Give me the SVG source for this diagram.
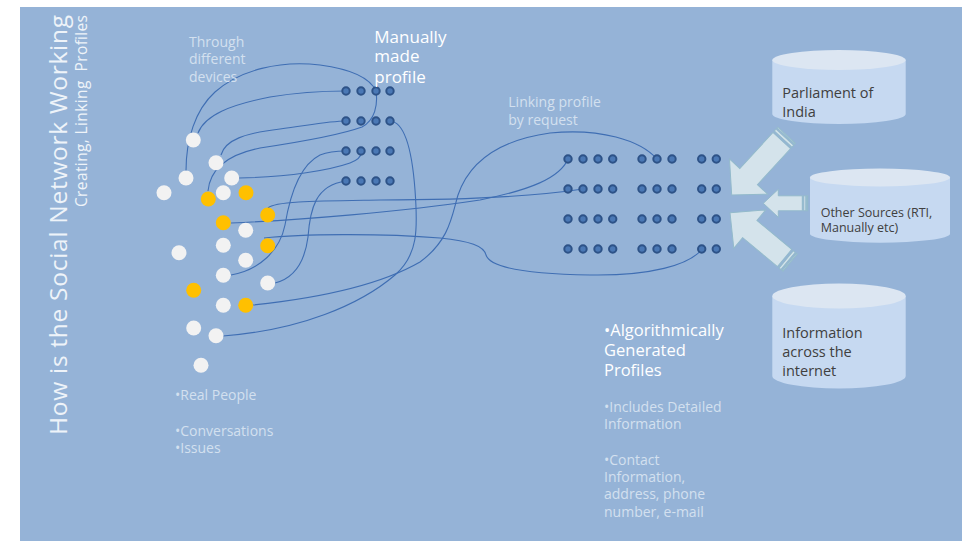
<svg xmlns="http://www.w3.org/2000/svg" width="964" height="541" viewBox="0 0 964 541">
<defs>
<style>
.bg{fill:#95B3D7}
.t{font-family:"Open Sans","DejaVu Sans",sans-serif}
.w{fill:#FFFFFF}
.f{fill:#D3E0EF}
.ttl{fill:#EEF3F9}
.dk{fill:#404040}
.pw{fill:#F2F2F2}
.py{fill:#FFC000}
.dot{fill:#4A78B5;stroke:#2D5287;stroke-width:2}
.cn{fill:none;stroke:#3F6EB3;stroke-width:1.1}
.cb{fill:#C6D9F1}
.ct{fill:#DCE6F2}
.ar{fill:#D4E3EB;stroke:#93BACB;stroke-width:1}
</style>
</defs>
<rect class="bg" x="20" y="7" width="942" height="534"/>

<g id="title">
<text class="t ttl" font-size="24.5" textLength="420" lengthAdjust="spacing" transform="translate(67,435) rotate(-90)">How is the Social Network Working</text>
<text class="t ttl" font-size="15.5" textLength="192" lengthAdjust="spacing" xml:space="preserve" transform="translate(87,207) rotate(-90)">Creating, Linking  Profiles</text>
</g>

<g id="connectors">
<path class="cn" d="M186,171 C186,140 195,110 215,92 C240,70 280,60 320,65 C350,69 370,78 376,91"/>
<path class="cn" d="M198,133 C205,115 230,105 270,97 C300,92 325,91 346,91"/>
<path class="cn" d="M221,155 C225,140 245,133 280,129 C310,125 330,121 346,121"/>
<path class="cn" d="M208,191 C210,170 225,155 260,148 C300,142 340,135 362,127 C375,120 378,105 376,91"/>
<path class="cn" d="M239,178 C290,177 330,170 350,163 C358,160 362,156 361,151"/>
<path class="cn" d="M231,275 C260,270 280,250 285,225 C290,195 300,165 320,155 C330,151 340,151 346,151"/>
<path class="cn" d="M275,283 C295,278 305,260 308,237 C310,210 315,185 346,181"/>
<path class="cn" d="M390,121 C405,122 412,150 415,190 C418,230 418,255 395,275 C360,305 300,330 223,336"/>
<path class="cn" d="M253,305 C320,298 380,285 420,262 C450,240 452,215 458,195 C470,160 500,140 550,133 C600,128 640,140 657,159"/>
<path class="cn" d="M268,208 C275,201 320,201 380,200 C450,200 530,197 583,189"/>
<path class="cn" d="M231,223 C300,220 400,212 480,200 C530,190 560,178 568,159"/>
<path class="cn" d="M264,238 C300,234 380,233 440,238 C470,241 484,246 486,255 C490,268 530,274 590,275 C650,276 690,265 702,249"/>
</g>

<g id="real-people">
<circle class="pw" cx="193.3" cy="140" r="7.5"/>
<circle class="pw" cx="216" cy="162.7" r="7.5"/>
<circle class="pw" cx="186" cy="178" r="7.5"/>
<circle class="pw" cx="231.7" cy="178" r="7.5"/>
<circle class="pw" cx="164" cy="192.7" r="7.5"/>
<circle class="pw" cx="223.3" cy="192.7" r="7.5"/>
<circle class="pw" cx="245.7" cy="230.3" r="7.5"/>
<circle class="pw" cx="179" cy="252.7" r="7.5"/>
<circle class="pw" cx="223.3" cy="245.3" r="7.5"/>
<circle class="pw" cx="245.7" cy="260.3" r="7.5"/>
<circle class="pw" cx="223.3" cy="275.3" r="7.5"/>
<circle class="pw" cx="267.7" cy="283" r="7.5"/>
<circle class="pw" cx="223.3" cy="305.3" r="7.5"/>
<circle class="pw" cx="193.7" cy="328" r="7.5"/>
<circle class="pw" cx="216" cy="335.7" r="7.5"/>
<circle class="pw" cx="201" cy="365.3" r="7.5"/>
<circle class="py" cx="208.3" cy="199" r="7.5"/>
<circle class="py" cx="246" cy="192.7" r="7.5"/>
<circle class="py" cx="267.7" cy="215" r="7.5"/>
<circle class="py" cx="223.3" cy="222.7" r="7.5"/>
<circle class="py" cx="267.7" cy="245.7" r="7.5"/>
<circle class="py" cx="193.7" cy="290.3" r="7.5"/>
<circle class="py" cx="245.7" cy="305.3" r="7.5"/>
</g>

<g id="manual-profiles">
<circle class="dot" cx="346" cy="91" r="3.7"/><circle class="dot" cx="361" cy="91" r="3.7"/><circle class="dot" cx="376" cy="91" r="3.7"/><circle class="dot" cx="390" cy="91" r="3.7"/>
<circle class="dot" cx="346" cy="121" r="3.7"/><circle class="dot" cx="361" cy="121" r="3.7"/><circle class="dot" cx="376" cy="121" r="3.7"/><circle class="dot" cx="390" cy="121" r="3.7"/>
<circle class="dot" cx="346" cy="151" r="3.7"/><circle class="dot" cx="361" cy="151" r="3.7"/><circle class="dot" cx="376" cy="151" r="3.7"/><circle class="dot" cx="390" cy="151" r="3.7"/>
<circle class="dot" cx="346" cy="181" r="3.7"/><circle class="dot" cx="361" cy="181" r="3.7"/><circle class="dot" cx="376" cy="181" r="3.7"/><circle class="dot" cx="390" cy="181" r="3.7"/>
</g>

<g id="algorithmic-profiles">
<circle class="dot" cx="568" cy="159" r="3.7"/><circle class="dot" cx="583" cy="159" r="3.7"/><circle class="dot" cx="598" cy="159" r="3.7"/><circle class="dot" cx="612.7" cy="159" r="3.7"/><circle class="dot" cx="642" cy="159" r="3.7"/><circle class="dot" cx="657" cy="159" r="3.7"/><circle class="dot" cx="672" cy="159" r="3.7"/><circle class="dot" cx="701.7" cy="159" r="3.7"/><circle class="dot" cx="716.3" cy="159" r="3.7"/>
<circle class="dot" cx="568" cy="189" r="3.7"/><circle class="dot" cx="583" cy="189" r="3.7"/><circle class="dot" cx="598" cy="189" r="3.7"/><circle class="dot" cx="612.7" cy="189" r="3.7"/><circle class="dot" cx="642" cy="189" r="3.7"/><circle class="dot" cx="657" cy="189" r="3.7"/><circle class="dot" cx="672" cy="189" r="3.7"/><circle class="dot" cx="701.7" cy="189" r="3.7"/><circle class="dot" cx="716.3" cy="189" r="3.7"/>
<circle class="dot" cx="568" cy="219" r="3.7"/><circle class="dot" cx="583" cy="219" r="3.7"/><circle class="dot" cx="598" cy="219" r="3.7"/><circle class="dot" cx="612.7" cy="219" r="3.7"/><circle class="dot" cx="642" cy="219" r="3.7"/><circle class="dot" cx="657" cy="219" r="3.7"/><circle class="dot" cx="672" cy="219" r="3.7"/><circle class="dot" cx="701.7" cy="219" r="3.7"/><circle class="dot" cx="716.3" cy="219" r="3.7"/>
<circle class="dot" cx="568" cy="249" r="3.7"/><circle class="dot" cx="583" cy="249" r="3.7"/><circle class="dot" cx="598" cy="249" r="3.7"/><circle class="dot" cx="612.7" cy="249" r="3.7"/><circle class="dot" cx="642" cy="249" r="3.7"/><circle class="dot" cx="657" cy="249" r="3.7"/><circle class="dot" cx="672" cy="249" r="3.7"/><circle class="dot" cx="701.7" cy="249" r="3.7"/><circle class="dot" cx="716.3" cy="249" r="3.7"/>
</g>

<g id="arrow-parliament" transform="translate(731.7,195) rotate(-47.4)">
<path class="ar" d="M0,0 L25,-26 L25,-12 L74,-12 L74,12 L25,12 L25,26 Z"/>
<rect class="ar" x="76" y="-12" width="2.5" height="24"/>
<rect class="ar" x="80" y="-12" width="1.2" height="24"/>
</g>
<g id="arrow-other" transform="translate(763.3,203.3)">
<path class="ar" d="M0,0 L15,-14 L15,-7.5 L39,-7.5 L39,7.5 L15,7.5 L15,14 Z"/>
<rect class="ar" x="40.5" y="-7.5" width="2" height="15"/>
<rect class="ar" x="43.5" y="-7.5" width="1" height="15"/>
</g>
<g id="arrow-internet" transform="translate(730,212.7) rotate(39.7)">
<path class="ar" d="M0,0 L25.7,-25 L25.7,-11.2 L71,-11.2 L71,11.2 L25.7,11.2 L25.7,25 Z"/>
<rect class="ar" x="73" y="-11.2" width="2.5" height="22.4"/>
<rect class="ar" x="77" y="-11.2" width="1.2" height="22.4"/>
</g>

<g id="db-parliament">
<path class="cb" d="M772.3,60 L772.3,114 A66.7,10 0 0 0 905.7,114 L905.7,60 Z"/>
<ellipse class="ct" cx="839" cy="60" rx="66.7" ry="10"/>
<text class="t dk" font-size="14.5"><tspan x="782.3" y="98.3">Parliament of</tspan><tspan x="782.3" y="116.7">India</tspan></text>
</g>
<g id="db-other">
<path class="cb" d="M810,177.5 L810,233.7 A70,9 0 0 0 950,233.7 L950,177.5 Z"/>
<ellipse class="ct" cx="880" cy="177.5" rx="70" ry="9"/>
<text class="t dk" font-size="12.5"><tspan x="820.7" y="216.7">Other Sources (RTI,</tspan><tspan x="820.7" y="231.7">Manually etc)</tspan></text>
</g>
<g id="db-internet">
<path class="cb" d="M772.3,296 L772.3,376 A66.7,12.5 0 0 0 905.7,376 L905.7,296 Z"/>
<ellipse class="ct" cx="839" cy="296" rx="66.7" ry="12.5"/>
<text class="t dk" font-size="14.5"><tspan x="782.3" y="338.3">Information</tspan><tspan x="782.3" y="357.3">across the</tspan><tspan x="782.3" y="376">internet</tspan></text>
</g>

<g id="labels">
<text class="t f" font-size="14"><tspan x="189" y="46.7">Through</tspan><tspan x="189" y="63.7">different</tspan><tspan x="189" y="81.7">devices</tspan></text>
<text class="t w" font-size="17"><tspan x="374.3" y="42.7">Manually</tspan><tspan x="374.3" y="62">made</tspan><tspan x="374.3" y="82.7">profile</tspan></text>
<text class="t f" font-size="14"><tspan x="508.3" y="107.3">Linking profile</tspan><tspan x="508.3" y="125">by request</tspan></text>
<text class="t f" font-size="14"><tspan x="175" y="400">•Real People</tspan><tspan x="175" y="436">•Conversations</tspan><tspan x="175" y="453">•Issues</tspan></text>
<text class="t w" font-size="16.5"><tspan x="604" y="335.7">•Algorithmically</tspan><tspan x="604" y="355.5">Generated</tspan><tspan x="604" y="376">Profiles</tspan></text>
<text class="t f" font-size="14"><tspan x="604" y="411.7">•Includes Detailed</tspan><tspan x="604" y="429.3">Information</tspan><tspan x="604" y="465">•Contact</tspan><tspan x="604" y="482">Information,</tspan><tspan x="604" y="499">address, phone</tspan><tspan x="604" y="516.7">number, e-mail</tspan></text>
</g>
</svg>
